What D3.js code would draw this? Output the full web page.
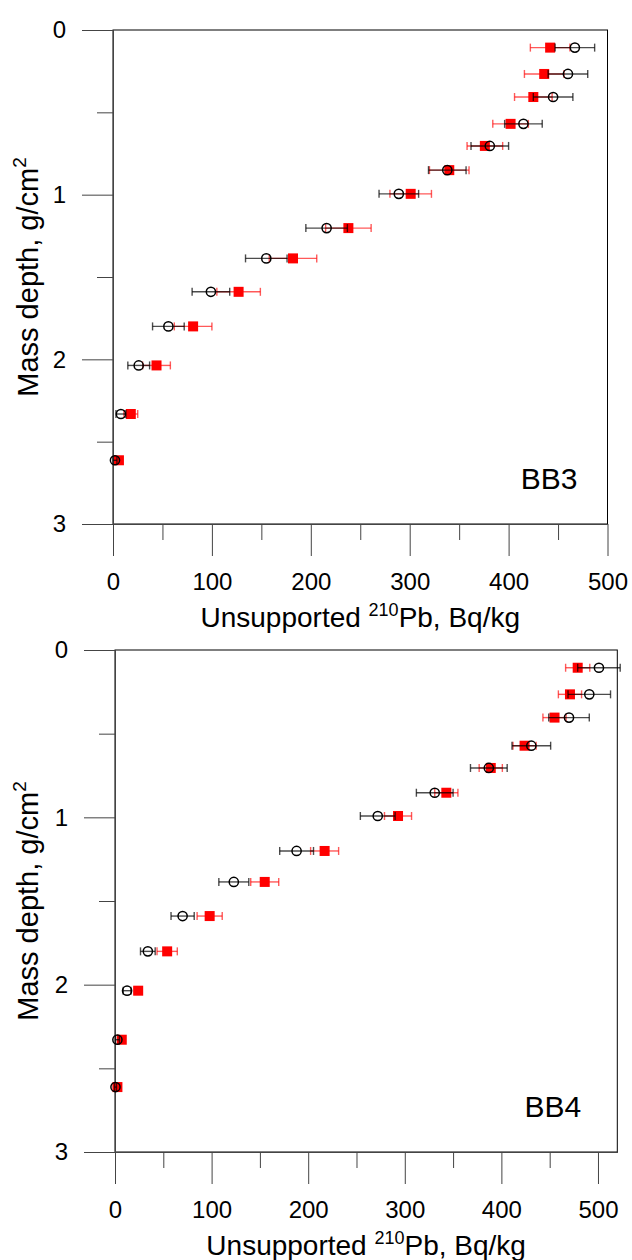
<!DOCTYPE html>
<html>
<head>
<meta charset="utf-8">
<script src="https://cdn.jsdelivr.net/npm/d3@7"></script>
<style>
  body { margin: 0; background: #fff; }
  text { font-family: "Liberation Sans", Arial, sans-serif; fill: #000; }
</style>
</head>
<body>
<div id="chart"></div>
<script>
// mass depth (g/cm2) of each slice
const depthBB3 = [0.107, 0.267, 0.407, 0.57, 0.704, 0.851, 0.995, 1.203, 1.387, 1.59, 1.8, 2.037, 2.332, 2.613];
const depthBB4 = [0.106, 0.265, 0.404, 0.572, 0.705, 0.853, 0.992, 1.201, 1.386, 1.59, 1.801, 2.036, 2.329, 2.612];

// open circles (black)
const bb3Circle = [467, 460, 445, 415, 381, 338, 289, 216, 155, 99, 56, 26, 8, 2];
const bb3CircleErr = [20, 20, 20, 19, 19, 19, 20, 21, 21, 19, 16, 11, 5, 2];
// red squares
const bb3Square = [442, 436, 425, 402, 376, 340, 301, 238, 182, 127, 81, 44, 18, 6];
const bb3SquareErr = [20, 20, 19, 18, 18, 20, 21, 23, 24, 22, 19, 14, 7, 3];

const bb4Circle = [501, 491, 470, 431, 387, 331, 272, 188, 123, 70, 34, 12.5, 2.5, 0.5];
const bb4CircleErr = [22, 22, 21, 20, 19, 19, 18, 17.5, 15.5, 12, 7.6, 4, 2, 1];
const bb4Square = [479, 471, 455, 424, 389, 343, 293, 217, 155, 98, 54, 24, 7, 2.5];
const bb4SquareErr = [12.5, 12, 12, 12, 12, 12, 14, 14.5, 14.5, 13, 10.5, 4, 2, 1];

const yTicks = [0, 1, 2, 3];
const yMinorTicks = [0.5, 1.5, 2.5];
const xTicks = [0, 100, 200, 300, 400, 500];
const xMinorTicks = [50, 150, 250, 350, 450];

const svg = d3.select("#chart").append("svg")
    .attr("width", 632)
    .attr("height", 1260);

const panels = [
    {name: "BB3", top: 30, bottom: 524, left: 113, right: 607.5, xMax: 500,
     depth: depthBB3, circ: bb3Circle, circErr: bb3CircleErr, sq: bb3Square, sqErr: bb3SquareErr, labelRight: 30},
    {name: "BB4", top: 650, bottom: 1152, left: 115, right: 617.3, xMax: 520,
     depth: depthBB4, circ: bb4Circle, circErr: bb4CircleErr, sq: bb4Square, sqErr: bb4SquareErr, labelRight: 36}
];

panels.forEach(function (p) { renderPanel(p); });

function renderPanel(p) {
    const x = d3.scaleLinear().domain([0, p.xMax]).range([p.left, p.right]);
    const y = d3.scaleLinear().domain([0, 3]).range([p.top, p.bottom]);

    const g = svg.append("g");

    // frame
    g.append("rect")
        .attr("x", p.left)
        .attr("y", p.top)
        .attr("width", p.right - p.left)
        .attr("height", p.bottom - p.top)
        .attr("fill", "none")
        .attr("stroke", "#000")
        .attr("stroke-width", 1);

    // y axis, long ticks to the left
    g.append("g")
        .attr("transform", "translate(" + p.left + ",0)")
        .call(d3.axisLeft(y).tickValues(yTicks).tickSize(31).tickSizeOuter(0).tickPadding(16).tickFormat(d3.format("d")));
    g.append("g")
        .attr("transform", "translate(" + p.left + ",0)")
        .call(d3.axisLeft(y).tickValues(yMinorTicks).tickSize(16).tickSizeOuter(0).tickFormat(""));

    // x axis, ticks hanging under the frame
    g.append("g")
        .attr("transform", "translate(0," + p.bottom + ")")
        .call(d3.axisBottom(x).tickValues(xTicks).tickSize(32).tickSizeOuter(0).tickPadding(17));
    g.append("g")
        .attr("transform", "translate(0," + p.bottom + ")")
        .call(d3.axisBottom(x).tickValues(xMinorTicks).tickSize(16).tickSizeOuter(0).tickFormat(""));

    g.selectAll(".domain").attr("stroke", "#444");
    g.selectAll(".tick line").attr("stroke", "#444");
    g.selectAll(".tick text")
        .attr("font-size", 24)
        .attr("font-family", "Liberation Sans, Arial, sans-serif");

    // axis titles
    const xt = g.append("text")
        .attr("x", (p.left + p.right) / 2)
        .attr("y", p.bottom + 103)
        .attr("text-anchor", "middle")
        .attr("font-size", 28);
    xt.append("tspan").text("Unsupported ");
    xt.append("tspan").attr("font-size", 18).attr("dy", -11).text("210");
    xt.append("tspan").attr("dy", 11).text("Pb, Bq/kg");

    const yt = g.append("text")
        .attr("transform", "translate(38," + ((p.top + p.bottom) / 2) + ") rotate(-90)")
        .attr("text-anchor", "middle")
        .attr("font-size", 29);
    yt.append("tspan").text("Mass depth, g/cm");
    yt.append("tspan").attr("font-size", 19).attr("dy", -12).text("2");

    g.append("text")
        .attr("x", p.right - p.labelRight)
        .attr("y", p.bottom - 35)
        .attr("text-anchor", "end")
        .attr("font-size", 30)
        .text(p.name);

    const sqRows = p.depth.map(function (d, i) { return {d: d, v: p.sq[i], e: p.sqErr[i]}; });
    const circRows = p.depth.map(function (d, i) { return {d: d, v: p.circ[i], e: p.circErr[i]}; });

    drawErrorBars(g, sqRows, x, y, "#ff0000", 0.65);
    g.append("g").selectAll("rect")
        .data(sqRows)
        .enter()
        .append("rect")
        .attr("x", function (d) { return x(d.v) - 5; })
        .attr("y", function (d) { return y(d.d) - 5; })
        .attr("width", 10)
        .attr("height", 10)
        .attr("fill", "#ff0000");

    drawErrorBars(g, circRows, x, y, "#000", 0.7);
    g.append("g").selectAll("circle")
        .data(circRows)
        .enter()
        .append("circle")
        .attr("cx", function (d) { return x(d.v); })
        .attr("cy", function (d) { return y(d.d); })
        .attr("r", 4.6)
        .attr("fill", "none")
        .attr("stroke", "#000")
        .attr("stroke-width", 1.5);
}

function drawErrorBars(g, rows, x, y, color, opacity) {
    const eb = g.append("g")
        .attr("stroke", color)
        .attr("stroke-opacity", opacity)
        .attr("stroke-width", 1.4);
    rows.forEach(function (d) {
        const cy = y(d.d);
        eb.append("line")
            .attr("x1", x(d.v - d.e)).attr("x2", x(d.v + d.e))
            .attr("y1", cy).attr("y2", cy);
        [d.v - d.e, d.v + d.e].forEach(function (v) {
            eb.append("line")
                .attr("x1", x(v)).attr("x2", x(v))
                .attr("y1", cy - 4).attr("y2", cy + 4);
        });
    });
}
</script>
</body>
</html>
